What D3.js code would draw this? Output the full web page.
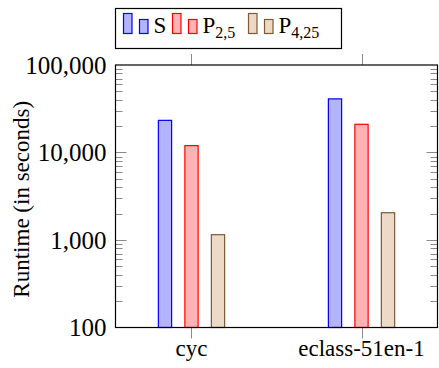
<!DOCTYPE html>
<html>
<head>
<meta charset="utf-8">
<script src="https://cdn.jsdelivr.net/npm/d3@7"></script>
</head>
<body style="margin:0">
<svg id="chart" width="439" height="368" style="display:block"></svg>
<script>
// Runtime per instance for the sequential and parallel configurations
const categories = ["cyc", "eclass-51en-1"];
const seriesNames = ["S", "P2,5", "P4,25"];
const valuesS    = [23300, 41000];
const valuesP25  = [12000, 21000];
const valuesP425 = [1150, 2050];
const yTickValues = [100, 1000, 10000, 100000];
const yTickLabels = ["100", "1,000", "10,000", "100,000"];
const yAxisTitle = "Runtime (in seconds)";

const seriesValues = [valuesS, valuesP25, valuesP425];
const styles = [
  { fill: "#b3b3ff", stroke: "#0000ff" },
  { fill: "#ffb3b3", stroke: "#ff0000" },
  { fill: "#ecd9c6", stroke: "#7a5a3a" }
];

const FONT = "Liberation Serif";
const plot = { left: 115.5, right: 437.5, top: 65, bottom: 327.5 };
const svg = d3.select("#chart");

const x = d3.scalePoint().domain(categories)
  .range([plot.left, plot.right]).padding(0.447);
const xs = d3.scaleBand().domain(seriesNames)
  .range([-39.75, 39.75]).paddingInner(0.5).paddingOuter(0.25);
const y = d3.scaleLog().domain([100, 100000]).range([plot.bottom, plot.top]);

// minor ticks 2..9 per decade
const minor = [];
[100, 1000, 10000].forEach(d => { for (let k = 2; k <= 9; k++) minor.push(d * k); });

const tickColor = "#8a8a8a";
const g = svg.append("g");

// y ticks on both sides, pointing inward
[[plot.left, 1], [plot.right, -1]].forEach(([x0, dir]) => {
  g.selectAll(null).data(minor).enter().append("line")
    .attr("x1", x0).attr("x2", x0 + dir * 7)
    .attr("y1", d => Math.round(y(d)) + 0.5).attr("y2", d => Math.round(y(d)) + 0.5)
    .attr("stroke", tickColor).attr("stroke-width", 1);
  g.selectAll(null).data(yTickValues.slice(1, 3)).enter().append("line")
    .attr("x1", x0).attr("x2", x0 + dir * 11)
    .attr("y1", d => Math.round(y(d)) + 0.5).attr("y2", d => Math.round(y(d)) + 0.5)
    .attr("stroke", tickColor).attr("stroke-width", 1);
});

// x ticks, outside at top and bottom
categories.forEach(c => {
  const cx = Math.round(x(c)) + 0.5;
  g.append("line").attr("x1", cx).attr("x2", cx).attr("y1", plot.top).attr("y2", plot.top - 11)
    .attr("stroke", tickColor);
  g.append("line").attr("x1", cx).attr("x2", cx).attr("y1", plot.bottom).attr("y2", plot.bottom + 11)
    .attr("stroke", tickColor);
});

// bars
seriesNames.forEach((s, i) => {
  g.selectAll(null).data(categories).enter().append("rect")
    .attr("x", c => x(c) + xs(s))
    .attr("width", xs.bandwidth())
    .attr("y", (c, j) => y(seriesValues[i][j]))
    .attr("height", (c, j) => y(100) - y(seriesValues[i][j]))
    .attr("fill", styles[i].fill)
    .attr("stroke", styles[i].stroke)
    .attr("stroke-width", 1.2);
});

// frame
g.append("rect")
  .attr("x", plot.left).attr("y", plot.top)
  .attr("width", plot.right - plot.left).attr("height", plot.bottom - plot.top)
  .attr("fill", "none").attr("stroke", "#000").attr("stroke-width", 1.2);

// y tick labels
svg.selectAll("text.ytick").data(yTickValues).enter().append("text")
  .attr("class", "ytick")
  .attr("x", plot.left - 9)
  .attr("y", d => y(d) + 8.5)
  .attr("text-anchor", "end")
  .attr("font-family", FONT)
  .attr("font-size", 25)
  .text((d, i) => yTickLabels[i]);

// x tick labels
svg.selectAll("text.xtick").data(categories).enter().append("text")
  .attr("class", "xtick")
  .attr("x", c => x(c))
  .attr("y", 356)
  .attr("text-anchor", "middle")
  .attr("font-family", FONT)
  .attr("font-size", 23)
  .text(c => c);

// y axis title
svg.append("text")
  .attr("transform", `translate(29, ${(plot.top + plot.bottom) / 2 + 3}) rotate(-90)`)
  .attr("text-anchor", "middle")
  .attr("font-family", FONT)
  .attr("font-size", 23)
  .text(yAxisTitle);

// legend
const legend = svg.append("g");
legend.append("rect")
  .attr("x", 115.5).attr("y", 8.5).attr("width", 226).attr("height", 40)
  .attr("fill", "#fff").attr("stroke", "#000").attr("stroke-width", 1.2);

const legendItems = [
  { x: 123.5, main: "S", sub: "" },
  { x: 172.5, main: "P", sub: "2,5" },
  { x: 248.5, main: "P", sub: "4,25" }
];
legendItems.forEach((it, i) => {
  legend.append("rect").attr("x", it.x).attr("y", 13.5).attr("width", 8.5).attr("height", 20)
    .attr("fill", styles[i].fill).attr("stroke", styles[i].stroke).attr("stroke-width", 1.2);
  legend.append("rect").attr("x", it.x + 16).attr("y", 19.5).attr("width", 8.5).attr("height", 14)
    .attr("fill", styles[i].fill).attr("stroke", styles[i].stroke).attr("stroke-width", 1.2);
  const t = legend.append("text").attr("x", it.x + 30).attr("y", 33)
    .attr("font-family", FONT).attr("font-size", 23);
  t.append("tspan").text(it.main);
  if (it.sub) {
    t.append("tspan").attr("dy", 5).attr("font-size", 16).text(it.sub);
  }
});
</script>
</body>
</html>
